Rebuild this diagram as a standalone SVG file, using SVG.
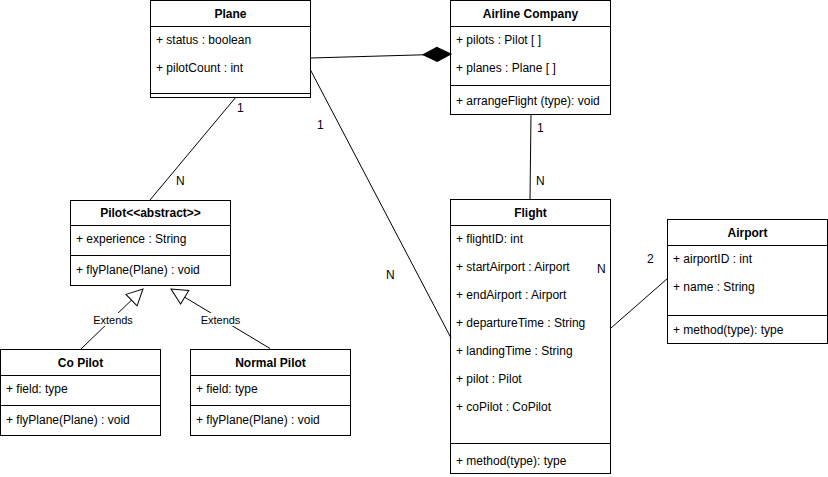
<svg xmlns="http://www.w3.org/2000/svg" width="828" height="477" viewBox="0 0 828 477">
<style>
.box{fill:#fff;stroke:#000;stroke-width:1}
.ln{stroke:#000;stroke-width:1;fill:none}
text{font-family:"Liberation Sans",Arial,Helvetica,sans-serif;font-size:12px;fill:#000}
.t{font-weight:bold;text-anchor:middle}
.lbl{font-size:11px;text-anchor:middle}
</style>
<defs>
<marker id="diamond" markerUnits="userSpaceOnUse" markerWidth="30" markerHeight="16" refX="28" refY="7" orient="auto" overflow="visible">
<path d="M0,7 L14,0 L28,7 L14,14 Z" fill="#000" stroke="#000"/>
</marker>
<marker id="tri" markerUnits="userSpaceOnUse" markerWidth="18" markerHeight="18" refX="16" refY="8" orient="auto" overflow="visible">
<path d="M0,0 L16,8 L0,16 Z" fill="#fff" stroke="#000"/>
</marker>
</defs>
<g id="plane">
<rect class="box" x="150.5" y="0.5" width="160" height="97"/>
<path class="ln" d="M150.5,26.5 H310.5 M150.5,93.5 H310.5"/>
<text class="t" x="230.5" y="18">Plane</text>
<text x="156" y="44">+ status : boolean</text>
<text x="156" y="72">+ pilotCount : int</text>
</g>
<g id="airline">
<rect class="box" x="450.5" y="0.5" width="160" height="114"/>
<path class="ln" d="M450.5,26.5 H610.5 M450.5,85.5 H610.5"/>
<text class="t" x="530.5" y="18">Airline Company</text>
<text x="456" y="44">+ pilots : Pilot [ ]</text>
<text x="456" y="72">+ planes : Plane [ ]</text>
<text x="456" y="105">+ arrangeFlight (type): void</text>
</g>
<g id="pilot">
<rect class="box" x="70.5" y="200.5" width="160" height="85"/>
<path class="ln" d="M70.5,225.5 H230.5 M70.5,255.5 H230.5"/>
<text class="t" x="150.5" y="217">Pilot&lt;&lt;abstract&gt;&gt;</text>
<text x="76" y="243">+ experience : String</text>
<text x="76" y="274">+ flyPlane(Plane) : void</text>
</g>
<g id="copilot">
<rect class="box" x="0.5" y="349.5" width="160" height="86"/>
<path class="ln" d="M0.5,375.5 H160.5 M0.5,405.5 H160.5"/>
<text class="t" x="80.5" y="367">Co Pilot</text>
<text x="6" y="393">+ field: type</text>
<text x="6" y="424">+ flyPlane(Plane) : void</text>
</g>
<g id="normalpilot">
<rect class="box" x="190.5" y="349.5" width="160" height="86"/>
<path class="ln" d="M190.5,375.5 H350.5 M190.5,405.5 H350.5"/>
<text class="t" x="270.5" y="367">Normal Pilot</text>
<text x="196" y="393">+ field: type</text>
<text x="196" y="424">+ flyPlane(Plane) : void</text>
</g>
<g id="flight">
<rect class="box" x="450.5" y="199.5" width="160" height="274"/>
<path class="ln" d="M450.5,225.5 H610.5 M450.5,443.5 H610.5"/>
<text class="t" x="530.5" y="217">Flight</text>
<text x="456" y="243">+ flightID: int</text>
<text x="456" y="271">+ startAirport : Airport</text>
<text x="456" y="299">+ endAirport : Airport</text>
<text x="456" y="327">+ departureTime : String</text>
<text x="456" y="355">+ landingTime : String</text>
<text x="456" y="383">+ pilot : Pilot</text>
<text x="456" y="411">+ coPilot : CoPilot</text>
<text x="456" y="465">+ method(type): type</text>
</g>
<g id="airport">
<rect class="box" x="667.5" y="219.5" width="160" height="124"/>
<path class="ln" d="M667.5,245.5 H827.5 M667.5,315.5 H827.5"/>
<text class="t" x="747.5" y="237">Airport</text>
<text x="673" y="263">+ airportID : int</text>
<text x="673" y="291">+ name : String</text>
<text x="673" y="334">+ method(type): type</text>
</g>
<g id="connectors">
<path class="ln" d="M310.5,58 L451,54" marker-end="url(#diamond)"/>
<path class="ln" d="M236,97 L150,200"/>
<path class="ln" d="M310.5,70 L451,338"/>
<path class="ln" d="M531,114 L530,199"/>
<path class="ln" d="M611,328 L668,278"/>
<path class="ln" d="M81,349 L143,289" marker-end="url(#tri)"/>
<path class="ln" d="M270,348.5 L171,289" marker-end="url(#tri)"/>
<rect x="93" y="313" width="40" height="13" fill="#fff"/>
<text class="lbl" x="113" y="323.5">Extends</text>
<rect x="200" y="313" width="41" height="13" fill="#fff"/>
<text class="lbl" x="220.5" y="323.5">Extends</text>
<text x="237" y="112">1</text>
<text x="176" y="185">N</text>
<text x="317" y="129">1</text>
<text x="386" y="279">N</text>
<text x="537" y="132">1</text>
<text x="536" y="185">N</text>
<text x="597" y="273">N</text>
<text x="647" y="263">2</text>
</g>
</svg>
